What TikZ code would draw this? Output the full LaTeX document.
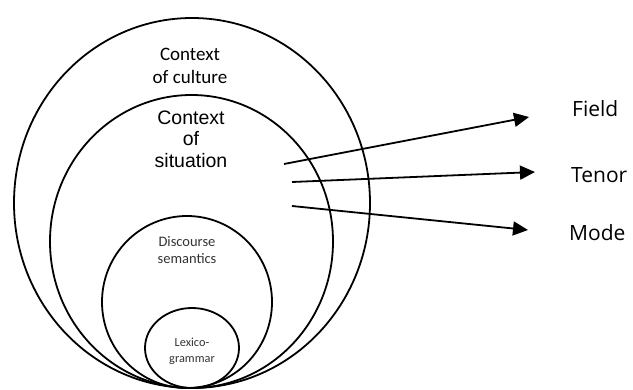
\documentclass[tikz,border=0pt]{standalone}
\usepackage{fontspec}
\setmainfont{Carlito}
\newfontfamily\arialf{Liberation Sans}
\newfontfamily\segoef{Open Sans}
\usetikzlibrary{arrows.meta}
\begin{document}
\begin{tikzpicture}[x=1pt,y=-1pt,
  ring/.style={line width=1.8pt},
  link/.style={line width=1.8pt,-{Triangle[length=15pt,width=14pt]}},
  lbl/.style={inner sep=0pt,align=center},
  dim/.style={lbl,text=black!80}]
\useasboundingbox (0,0) rectangle (633,390);
% nested ellipses
\draw[ring] (192,203) ellipse [x radius=178, y radius=185];
\draw[ring] (191.5,241.5) ellipse [x radius=141.5, y radius=146.5];
\draw[ring] (187,302) ellipse [x radius=85, y radius=86];
\draw[ring] (192,348) ellipse [x radius=47, y radius=40];
% labels inside
\node[lbl,font=\fontsize{19}{23}\selectfont] (culture) at (190,66) {Context\\of culture};
\node[lbl,font=\arialf\fontsize{19.5}{21.5}\selectfont] (situation) at (191,139) {Context\\of\\situation};
\node[dim,font=\fontsize{14.5}{16.7}\selectfont] (discourse) at (187,250) {Discourse\\semantics};
\node[dim,font=\fontsize{12.3}{16}\selectfont] (lexico) at (192,351) {Lexico-\\grammar};
% right-hand labels
\node[lbl,anchor=west,font=\segoef\fontsize{21}{24}\selectfont] (field) at (572,109) {Field};
\node[lbl,anchor=west,font=\segoef\fontsize{21}{24}\selectfont] (tenor) at (571,175) {Tenor};
\node[lbl,anchor=west,font=\segoef\fontsize{21}{24}\selectfont] (mode) at (569,233) {Mode};
% arrow ends
\coordinate (fs) at (284,164);
\coordinate (ts) at (292,182);
\coordinate (ms) at (292,206);
\coordinate (ft) at (529,117);
\coordinate (tt) at (535,172);
\coordinate (mt) at (528,230);
\draw[link] (fs) -- (ft);
\draw[link] (ts) -- (tt);
\draw[link] (ms) -- (mt);
\end{tikzpicture}
\end{document}
